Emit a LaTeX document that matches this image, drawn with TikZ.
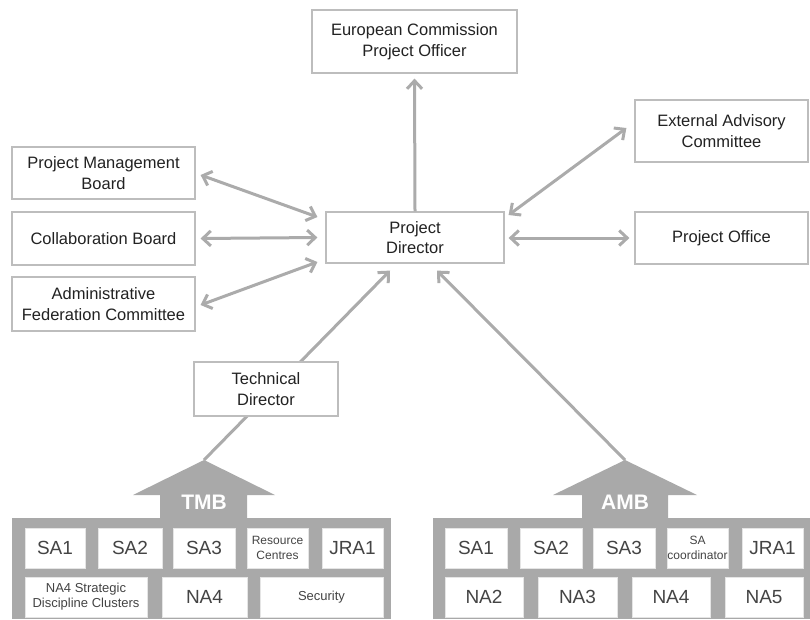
\documentclass[tikz,border=0pt]{standalone}
\usepackage{fontspec}
\setmainfont{Liberation Sans}
\usetikzlibrary{arrows.meta,calc}

\definecolor{linkgray}{HTML}{ABABAB}
\definecolor{blockgray}{HTML}{A9A9A9}
\definecolor{framegray}{HTML}{BDBDBD}
\definecolor{inkgray}{HTML}{222222}
\definecolor{cellink}{HTML}{444444}

\tikzset{
  orgbox/.style={draw=framegray, line width=1.2pt, fill=white, align=center,
    inner sep=0pt, text=inkgray, font=\fontsize{16.5}{20.5}\selectfont},
  cell/.style={fill=white, draw=white!90!black, line width=0.6pt, inner sep=0pt,
    minimum height=40pt, align=center, text=cellink,
    font=\fontsize{19}{22}\selectfont},
  smallcell/.style={cell, font=\fontsize{12}{15}\selectfont},
  midcell/.style={cell, font=\fontsize{13}{15}\selectfont},
  link/.style={draw=linkgray, line width=3pt,
    -{Straight Barb[length=8pt,width=15pt]}},
  twoway/.style={link, {Straight Barb[length=8pt,width=15pt]}-{Straight Barb[length=8pt,width=15pt]}},
  boardlabel/.style={text=white, font=\bfseries\fontsize{21}{24}\selectfont},
}

\begin{document}
\begin{tikzpicture}[x=1pt,y=-1pt]
\useasboundingbox (0,0) rectangle (810,619);

% management boards at the base
\fill[blockgray] (12,518) rectangle (391,619);
\fill[blockgray] (160,519) -- (160,495) -- (133,495) -- (204,460) -- (275,495)
  -- (247,495) -- (247,519) -- cycle;
\coordinate (tmbtip) at (204,460);
\node[boardlabel] (tmb) at (204,502) {TMB};

\fill[blockgray] (433,518) rectangle (810,619);
\fill[blockgray] (582,519) -- (582,495) -- (553,495) -- (625,460) -- (697,495)
  -- (668,495) -- (668,519) -- cycle;
\coordinate (ambtip) at (625,460);
\node[boardlabel] (amb) at (625,502) {AMB};

% TMB activities
\node[cell, minimum width=60pt] (tsa1) at (55,548) {SA1};
\node[cell, minimum width=64pt] (tsa2) at (130,548) {SA2};
\node[cell, minimum width=62pt] (tsa3) at (204,548) {SA3};
\node[smallcell, minimum width=61pt] (trc) at (277.5,548) {Resource\\Centres};
\node[cell, minimum width=61pt] (tjra) at (352.5,548) {JRA1};
\node[midcell, minimum width=122pt] (tna4s) at (86,597) {NA4 Strategic\\Discipline Clusters};
\node[cell, minimum width=85pt] (tna4) at (204.5,597) {NA4};
\node[midcell, minimum width=123pt] (tsec) at (321.5,597) {Security};

% AMB activities
\node[cell, minimum width=62pt] (asa1) at (476,548) {SA1};
\node[cell, minimum width=62pt] (asa2) at (551,548) {SA2};
\node[cell, minimum width=62pt] (asa3) at (624,548) {SA3};
\node[smallcell, minimum width=61pt] (asac) at (697.5,548) {SA\\coordinator};
\node[cell, minimum width=61pt] (ajra) at (772.5,548) {JRA1};
\node[cell, minimum width=78pt] (ana2) at (484,597) {NA2};
\node[cell, minimum width=79pt] (ana3) at (577.5,597) {NA3};
\node[cell, minimum width=78pt] (ana4) at (671,597) {NA4};
\node[cell, minimum width=78pt] (ana5) at (764,597) {NA5};

% governance boxes
\node[orgbox, minimum width=205pt, minimum height=63pt] (ec) at (414.5,41.5)
  {European Commission\\Project Officer};
\node[orgbox, minimum width=178pt, minimum height=51pt] (pd) at (415,237.5)
  {Project\\Director};
\node[orgbox, minimum width=173pt, minimum height=62pt] (eac) at (721.5,131)
  {External Advisory\\Committee};
\node[orgbox, minimum width=173pt, minimum height=52pt] (po) at (721.5,238)
  {Project Office};
\node[orgbox, minimum width=183pt, minimum height=52pt] (pmb) at (103.5,173)
  {Project Management\\Board};
\node[orgbox, minimum width=183pt, minimum height=53pt] (cb) at (103.5,238.5)
  {Collaboration Board};
\node[orgbox, minimum width=183pt, minimum height=54pt] (afc) at (103.5,304)
  {Administrative\\Federation Committee};

% reporting lines
\draw[link] (pd.north) -- ($(ec.south)+(0,5)$);
\draw[twoway] ($(pmb.east)+(5,2)$) -- ($(pd.west)+(-8,-20.5)$);
\draw[twoway] ($(cb.east)+(5,0)$) -- ($(pd.west)+(-8,0)$);
\draw[twoway] ($(afc.east)+(5,1)$) -- ($(pd.west)+(-8,24.5)$);
\draw[twoway] ($(pd.east)+(4,-22.5)$) -- ($(eac.west)+(-8,-3)$);
\draw[twoway] ($(pd.east)+(4,0.5)$) -- ($(po.west)+(-5,0)$);
\draw[link] (tmbtip) -- ($(pd.south)+(-25,7)$);
\draw[link] (ambtip) -- ($(pd.south)+(22,7)$);

% technical director sits on the TMB line
\node[orgbox, minimum width=144pt, minimum height=54pt] (td) at (266,389)
  {Technical\\Director};
\end{tikzpicture}
\end{document}
